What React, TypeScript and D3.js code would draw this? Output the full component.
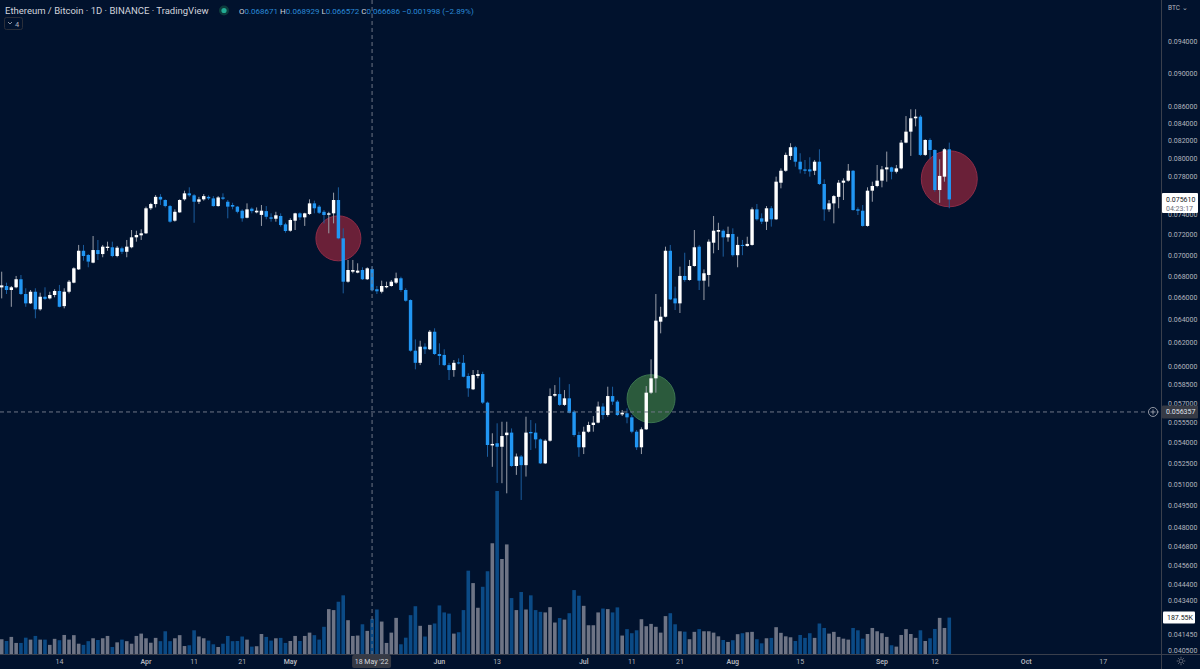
import React from 'react';
import * as d3 from 'd3';

// ETH/BTC daily candles, Mar 2 2022 -> Sep 15 2022 (one value per day)
const firstDay = new Date(Date.UTC(2022, 2, 2));

const opens = [
  0.06695, 0.06708, 0.06671, 0.06696, 0.06771, 0.06634, 0.06549, 0.06655, 0.06495, 0.06609,
  0.06594, 0.06625, 0.06662, 0.06524, 0.06655, 0.06739, 0.06864, 0.07043, 0.07002, 0.06928,
  0.07050, 0.07011, 0.07070, 0.07077, 0.06992, 0.07067, 0.07033, 0.07077, 0.07175, 0.07195,
  0.07215, 0.07469, 0.07513, 0.07588, 0.07555, 0.07492, 0.07342, 0.07427, 0.07562, 0.07625,
  0.07604, 0.07537, 0.07562, 0.07588, 0.07572, 0.07492, 0.07582, 0.07537, 0.07503, 0.07486,
  0.07444, 0.07372, 0.07465, 0.07427, 0.07401, 0.07440, 0.07376, 0.07362, 0.07390, 0.07305,
  0.07241, 0.07342, 0.07417, 0.07376, 0.07410, 0.07520, 0.07486, 0.07433, 0.07403, 0.07417,
  0.07555, 0.07165, 0.06748, 0.06842, 0.06833, 0.06858, 0.06771, 0.068671, 0.06678, 0.06655,
  0.06696, 0.06708, 0.06739, 0.06780, 0.06671, 0.06579, 0.06134, 0.06032, 0.06168, 0.06146,
  0.06297, 0.06106, 0.06098, 0.06013, 0.05972, 0.06035, 0.06032, 0.05923, 0.05815, 0.05923,
  0.05939, 0.05709, 0.05381, 0.05397, 0.05371, 0.05458, 0.05477, 0.05230, 0.05299, 0.05236,
  0.05482, 0.05477, 0.05426, 0.05249, 0.05416, 0.05764, 0.05777, 0.05691, 0.05743, 0.05638,
  0.05459, 0.05367, 0.05484, 0.05535, 0.05553, 0.05678, 0.05612, 0.05761, 0.05717, 0.05617,
  0.05625, 0.05594, 0.05484, 0.05367, 0.05502, 0.05788, 0.05904, 0.06385, 0.06429, 0.07043,
  0.06594, 0.06549, 0.06802, 0.06764, 0.06896, 0.07083, 0.06758, 0.06811, 0.07122, 0.07231,
  0.07241, 0.07175, 0.07208, 0.07000, 0.07100, 0.07090, 0.07100, 0.07458, 0.07366, 0.07332,
  0.07469, 0.07356, 0.07738, 0.07867, 0.08030, 0.08127, 0.07966, 0.07882, 0.07882, 0.07867,
  0.07966, 0.07724, 0.07458, 0.07520, 0.07588, 0.07738, 0.07760, 0.07867, 0.07458, 0.07444,
  0.07289, 0.07653, 0.07703, 0.07760, 0.07882, 0.07904, 0.07856, 0.07893, 0.08179, 0.08304,
  0.08459, 0.08478, 0.08041, 0.08209, 0.08096, 0.07660, 0.07803, 0.08104,
];

const highs = [
  0.06842, 0.06739, 0.06708, 0.06802, 0.06811, 0.06687, 0.06671, 0.06687, 0.06646, 0.06696,
  0.06655, 0.06678, 0.06718, 0.06687, 0.06764, 0.06884, 0.07100, 0.07100, 0.07011, 0.07188,
  0.07149, 0.07100, 0.07132, 0.07132, 0.07090, 0.07083, 0.07149, 0.07248, 0.07241, 0.07255,
  0.07486, 0.07526, 0.07607, 0.07617, 0.07562, 0.07503, 0.07458, 0.07562, 0.07653, 0.07689,
  0.07617, 0.07588, 0.07617, 0.07604, 0.07596, 0.07596, 0.07625, 0.07555, 0.07526, 0.07492,
  0.07458, 0.07520, 0.07478, 0.07478, 0.07503, 0.07492, 0.07417, 0.07433, 0.07417, 0.07321,
  0.07366, 0.07423, 0.07427, 0.07423, 0.07562, 0.07548, 0.07503, 0.07451, 0.07433, 0.07632,
  0.07689, 0.07265, 0.06954, 0.06954, 0.06922, 0.06884, 0.06884, 0.068929, 0.06708, 0.06758,
  0.06748, 0.06764, 0.06833, 0.06795, 0.06687, 0.06585, 0.06231, 0.06219, 0.06197, 0.06312,
  0.06327, 0.06197, 0.06146, 0.06032, 0.06055, 0.06069, 0.06098, 0.05945, 0.05972, 0.05972,
  0.05958, 0.05717, 0.05472, 0.05548, 0.05560, 0.05560, 0.05509, 0.05321, 0.05310, 0.05599,
  0.05573, 0.05548, 0.05433, 0.05426, 0.05822, 0.05849, 0.05912, 0.05809, 0.05857, 0.05651,
  0.05484, 0.05522, 0.05560, 0.05604, 0.05717, 0.05704, 0.05836, 0.05836, 0.05730, 0.05651,
  0.05664, 0.05612, 0.05497, 0.05517, 0.05841, 0.06061, 0.06634, 0.06518, 0.07083, 0.07100,
  0.06702, 0.06890, 0.07024, 0.06954, 0.07248, 0.07100, 0.06864, 0.07155, 0.07390, 0.07321,
  0.07255, 0.07282, 0.07265, 0.07181, 0.07149, 0.07181, 0.07478, 0.07513, 0.07417, 0.07492,
  0.07492, 0.07803, 0.07893, 0.08067, 0.08172, 0.08142, 0.08060, 0.07985, 0.08015, 0.07985,
  0.08104, 0.07774, 0.07555, 0.07607, 0.07767, 0.07785, 0.07941, 0.07875, 0.07478, 0.07503,
  0.07689, 0.07749, 0.07930, 0.07919, 0.08078, 0.07911, 0.07930, 0.08209, 0.08485, 0.08565,
  0.08565, 0.08497, 0.08217, 0.08228, 0.08104, 0.07993, 0.08115, 0.08179,
];

const lows = [
  0.06594, 0.06634, 0.06518, 0.06687, 0.06625, 0.06518, 0.06543, 0.06415, 0.06483, 0.06579,
  0.06585, 0.06604, 0.06513, 0.06504, 0.06640, 0.06733, 0.06858, 0.06947, 0.06884, 0.06922,
  0.06954, 0.06980, 0.07043, 0.06980, 0.06980, 0.07011, 0.06980, 0.07067, 0.07132, 0.07149,
  0.07208, 0.07451, 0.07478, 0.07503, 0.07478, 0.07321, 0.07332, 0.07423, 0.07548, 0.07588,
  0.07321, 0.07513, 0.07548, 0.07555, 0.07486, 0.07486, 0.07555, 0.07366, 0.07458, 0.07417,
  0.07332, 0.07366, 0.07417, 0.07417, 0.07289, 0.07356, 0.07332, 0.07332, 0.07282, 0.07221,
  0.07231, 0.07248, 0.07349, 0.07289, 0.07400, 0.07417, 0.07410, 0.07315, 0.07215, 0.07315,
  0.07155, 0.06640, 0.06739, 0.06827, 0.06827, 0.06764, 0.06764, 0.066572, 0.06634, 0.06640,
  0.06687, 0.06702, 0.06727, 0.06655, 0.06564, 0.06126, 0.05978, 0.06013, 0.06106, 0.06140,
  0.06098, 0.06013, 0.06005, 0.05890, 0.05917, 0.06019, 0.05912, 0.05755, 0.05809, 0.05904,
  0.05698, 0.05297, 0.05224, 0.05109, 0.05107, 0.05036, 0.05224, 0.05166, 0.04990, 0.05154,
  0.05347, 0.05359, 0.05244, 0.05244, 0.05409, 0.05755, 0.05683, 0.05683, 0.05625, 0.05446,
  0.05297, 0.05317, 0.05477, 0.05484, 0.05548, 0.05578, 0.05599, 0.05691, 0.05604, 0.05604,
  0.05548, 0.05472, 0.05347, 0.05317, 0.05497, 0.05777, 0.05788, 0.06283, 0.06423, 0.06579,
  0.06489, 0.06462, 0.06748, 0.06758, 0.06890, 0.06671, 0.06579, 0.06702, 0.07018, 0.07050,
  0.06986, 0.07132, 0.06986, 0.06884, 0.07000, 0.07083, 0.07093, 0.07342, 0.07308, 0.07248,
  0.07282, 0.07349, 0.07678, 0.07856, 0.07985, 0.07911, 0.07838, 0.07831, 0.07803, 0.07820,
  0.07713, 0.07342, 0.07433, 0.07315, 0.07469, 0.07555, 0.07749, 0.07444, 0.07400, 0.07282,
  0.07282, 0.07537, 0.07689, 0.07689, 0.07749, 0.07774, 0.07838, 0.07882, 0.08172, 0.08030,
  0.08365, 0.08030, 0.08030, 0.07993, 0.07642, 0.07526, 0.07749, 0.07469,
];

const closes = [
  0.06714, 0.06671, 0.06696, 0.06771, 0.06634, 0.06549, 0.06655, 0.06495, 0.06609, 0.06590,
  0.06625, 0.06662, 0.06518, 0.06655, 0.06748, 0.06874, 0.07043, 0.06992, 0.06938, 0.07050,
  0.07011, 0.07083, 0.07083, 0.06992, 0.07073, 0.07033, 0.07083, 0.07175, 0.07198, 0.07215,
  0.07469, 0.07513, 0.07588, 0.07560, 0.07492, 0.07332, 0.07433, 0.07555, 0.07625, 0.07604,
  0.07537, 0.07562, 0.07596, 0.07572, 0.07492, 0.07582, 0.07568, 0.07486, 0.07486, 0.07433,
  0.07366, 0.07458, 0.07440, 0.07444, 0.07444, 0.07382, 0.07362, 0.07397, 0.07298, 0.07238,
  0.07349, 0.07417, 0.07376, 0.07417, 0.07520, 0.07469, 0.07423, 0.07400, 0.07417, 0.07555,
  0.07165, 0.06748, 0.06858, 0.06858, 0.06852, 0.06771, 0.06874, 0.066686, 0.06659, 0.06708,
  0.06708, 0.06748, 0.06780, 0.06671, 0.06573, 0.06134, 0.06032, 0.06168, 0.06146, 0.06297,
  0.06106, 0.06089, 0.06013, 0.05972, 0.06032, 0.06027, 0.05917, 0.05823, 0.05931, 0.05939,
  0.05709, 0.05384, 0.05392, 0.05371, 0.05451, 0.05477, 0.05230, 0.05299, 0.05236, 0.05477,
  0.05472, 0.05426, 0.05249, 0.05416, 0.05761, 0.05777, 0.05691, 0.05743, 0.05630, 0.05459,
  0.05367, 0.05484, 0.05535, 0.05553, 0.05678, 0.05612, 0.05761, 0.05717, 0.05612, 0.05630,
  0.05594, 0.05484, 0.05367, 0.05502, 0.05788, 0.05904, 0.06394, 0.06429, 0.07043, 0.06585,
  0.06549, 0.06802, 0.06764, 0.06896, 0.07077, 0.06758, 0.06827, 0.07132, 0.07241, 0.07248,
  0.07175, 0.07208, 0.07000, 0.07100, 0.07090, 0.07110, 0.07458, 0.07356, 0.07332, 0.07469,
  0.07356, 0.07749, 0.07867, 0.08041, 0.08127, 0.07966, 0.07882, 0.07867, 0.07860, 0.07966,
  0.07724, 0.07458, 0.07520, 0.07596, 0.07738, 0.07760, 0.07867, 0.07451, 0.07444, 0.07289,
  0.07653, 0.07703, 0.07760, 0.07882, 0.07904, 0.07856, 0.07893, 0.08179, 0.08304, 0.08459,
  0.08478, 0.08041, 0.08209, 0.08096, 0.07660, 0.07811, 0.08104, 0.07561,
];

// volume in thousands of ETH
const volumes = [
  76, 67, 88, 57, 57, 84, 74, 93, 74, 74,
  47, 78, 71, 98, 74, 97, 53, 47, 66, 81,
  72, 81, 93, 36, 60, 74, 66, 53, 93, 105,
  81, 58, 83, 66, 117, 66, 81, 97, 41, 45,
  122, 90, 81, 69, 50, 36, 53, 93, 66, 67,
  90, 74, 38, 40, 103, 88, 69, 81, 83, 57,
  67, 93, 67, 93, 110, 97, 74, 140, 231, 226,
  269, 302, 174, 93, 95, 153, 119, 181, 229, 167,
  57, 110, 186, 50, 84, 200, 246, 145, 90, 150,
  157, 250, 214, 208, 105, 112, 226, 429, 365, 238,
  346, 426, 570, 839, 489, 564, 288, 226, 319, 229,
  302, 226, 217, 214, 241, 162, 185, 177, 210, 329,
  300, 248, 148, 148, 214, 234, 231, 214, 240, 95,
  128, 107, 122, 179, 143, 155, 140, 110, 195, 210,
  153, 117, 115, 76, 114, 128, 117, 117, 110, 91,
  72, 62, 71, 102, 107, 112, 114, 76, 55, 81,
  83, 138, 109, 91, 86, 67, 98, 83, 107, 83,
  157, 134, 105, 114, 88, 79, 74, 134, 122, 79,
  103, 134, 117, 107, 88, 45, 38, 98, 128, 103,
  83, 122, 67, 81, 129, 186, 134, 187.55,
];

// visible price-scale labels (those hidden under the value labels are left out)
const priceTicks = [
  0.094, 0.09, 0.086, 0.084, 0.082, 0.08, 0.078, 0.074, 0.072, 0.07, 0.068, 0.066,
  0.064, 0.062, 0.06, 0.0585, 0.057, 0.0555, 0.054, 0.0525, 0.051, 0.0495, 0.048, 0.0468,
  0.0456, 0.0444, 0.0434, 0.04145, 0.0405,
];

const timeTicks = [
  { d: [2022, 2, 14], label: '14', month: false },
  { d: [2022, 3, 1], label: 'Apr', month: true },
  { d: [2022, 3, 11], label: '11', month: false },
  { d: [2022, 3, 21], label: '21', month: false },
  { d: [2022, 4, 1], label: 'May', month: true },
  { d: [2022, 5, 1], label: 'Jun', month: true },
  { d: [2022, 5, 13], label: '13', month: false },
  { d: [2022, 6, 1], label: 'Jul', month: true },
  { d: [2022, 6, 11], label: '11', month: false },
  { d: [2022, 6, 21], label: '21', month: false },
  { d: [2022, 7, 1], label: 'Aug', month: true },
  { d: [2022, 7, 15], label: '15', month: false },
  { d: [2022, 8, 1], label: 'Sep', month: true },
  { d: [2022, 8, 12], label: '12', month: false },
  { d: [2022, 9, 1], label: 'Oct', month: true },
  { d: [2022, 9, 17], label: '17', month: false },
];

// highlighted zones drawn on the chart: [day, price, radius px, kind]
const markers: [Date, number, number, string][] = [
  [new Date(Date.UTC(2022, 4, 11)), 0.07165, 22.5, 'red'],
  [new Date(Date.UTC(2022, 6, 15)), 0.0574, 24, 'green'],
  [new Date(Date.UTC(2022, 8, 15)), 0.0778, 28, 'red'],
];

const crossDate = new Date(Date.UTC(2022, 4, 18));
const crossPrice = 0.056357;
const lastPrice = 0.07561;

const W = 1200;
const H = 669;
const axisX = 1161;
const baseY = 654;

const BG = '#01122d';
const FONT = 'Roboto, "Noto Sans", sans-serif';

const App = () => {
  const day = (i: number) => d3.utcDay.offset(firstDay, i);

  const x = d3
    .scaleUtc()
    .domain([firstDay, new Date(Date.UTC(2022, 9, 17))])
    .range([1.7, 1103.2]);

  const y = d3.scaleLog().domain([0.094, 0.0405]).range([42, 650.9]);

  const vy = d3.scaleLinear().domain([0, 839]).range([baseY, 491]);

  const candles = opens.map((o, i) => ({
    date: day(i),
    o,
    h: highs[i],
    l: lows[i],
    c: closes[i],
    v: volumes[i],
  }));

  const bw = 3.4;

  return (
    <svg
      width={W}
      height={H}
      style={{ position: 'fixed', left: 0, top: 0, background: BG }}
      fontFamily={FONT}
    >
      <rect x={0} y={0} width={W} height={H} fill={BG} />

      {/* volume */}
      {candles.map((d, i) => {
        const up = d.c >= d.o;
        return (
          <rect
            key={'v' + i}
            x={x(d.date) - 1.8}
            y={vy(d.v)}
            width={3.6}
            height={baseY - vy(d.v)}
            fill={up ? '#6e7485' : '#0b4a85'}
          />
        );
      })}

      {/* marked zones */}
      {markers.map(([dt, p, r, kind], i) => (
        <circle
          key={'m' + i}
          cx={x(dt)}
          cy={y(p)}
          r={r}
          fill={kind === 'red' ? '#6a2038' : '#2b5a3c'}
          stroke={kind === 'red' ? '#8e2c48' : '#3b7550'}
          strokeWidth={1}
        />
      ))}

      {/* candles */}
      {candles.map((d, i) => {
        const up = d.c >= d.o;
        const cx = x(d.date);
        const top = y(Math.max(d.o, d.c));
        const bot = y(Math.min(d.o, d.c));
        return (
          <g key={'c' + i}>
            <line
              x1={cx}
              x2={cx}
              y1={y(d.h)}
              y2={y(d.l)}
              stroke={up ? '#9a9ea8' : '#1b5d9e'}
              strokeWidth={1}
            />
            <rect
              x={cx - bw / 2}
              y={top}
              width={bw}
              height={Math.max(1, bot - top)}
              fill={up ? '#ffffff' : '#2196f3'}
            />
          </g>
        );
      })}

      {/* crosshair */}
      <line x1={x(crossDate)} x2={x(crossDate)} y1={0} y2={baseY} stroke="#6f7686" strokeDasharray="4 3" />
      <line x1={0} x2={axisX} y1={y(crossPrice)} y2={y(crossPrice)} stroke="#6f7686" strokeDasharray="4 3" />

      {/* axes frame */}
      <rect x={axisX} y={0} width={W - axisX} height={H} fill={BG} />
      <rect x={0} y={baseY} width={axisX} height={H - baseY} fill={BG} />
      <line x1={axisX + 0.5} x2={axisX + 0.5} y1={0} y2={H} stroke="#3a3f4c" />
      <line x1={0} x2={W} y1={baseY + 0.5} y2={baseY + 0.5} stroke="#3a3f4c" />

      {/* price axis */}
      {priceTicks.map((t) => (
        <text key={t} x={1168} y={y(t)} dy="0.35em" fontSize={7} fill="#b2b5be">
          {t.toFixed(6)}
        </text>
      ))}
      <text x={1168} y={10} fontSize={6.5} fill="#b2b5be">
        BTC ⌄
      </text>

      {/* last price label */}
      <rect x={1162} y={y(lastPrice) - 6.5} width={36} height={20} rx={1} fill="#ffffff" />
      <text x={1166} y={y(lastPrice)} dy="0.35em" fontSize={7} fill="#131722">
        {lastPrice.toFixed(6)}
      </text>
      <text x={1166} y={y(lastPrice) + 9} dy="0.35em" fontSize={7} fill="#6a6d78">
        04:23:17
      </text>

      {/* crosshair price label */}
      <rect x={1162} y={y(crossPrice) - 6.5} width={36} height={13} rx={1} fill="#363a45" />
      <text x={1166} y={y(crossPrice)} dy="0.35em" fontSize={7} fill="#e0e3eb">
        {crossPrice.toFixed(6)}
      </text>
      <circle cx={1153} cy={y(crossPrice)} r={4.5} fill={BG} stroke="#b2b5be" strokeWidth={0.8} />
      <line x1={1150.5} x2={1155.5} y1={y(crossPrice)} y2={y(crossPrice)} stroke="#b2b5be" strokeWidth={0.8} />
      <line x1={1153} x2={1153} y1={y(crossPrice) - 2.5} y2={y(crossPrice) + 2.5} stroke="#b2b5be" strokeWidth={0.8} />

      {/* last volume label */}
      <rect x={1163} y={vy(187.55) - 6} width={32} height={12} rx={1} fill="#ffffff" />
      <text x={1167} y={vy(187.55)} dy="0.35em" fontSize={7} fill="#131722">
        187.55K
      </text>

      {/* time axis */}
      {timeTicks.map((t, i) => (
        <text
          key={'t' + i}
          x={x(new Date(Date.UTC(t.d[0], t.d[1], t.d[2])))}
          y={662}
          dy="0.35em"
          textAnchor="middle"
          fontSize={7}
          fontWeight={t.month ? 600 : 400}
          fill="#b2b5be"
        >
          {t.label}
        </text>
      ))}
      <rect x={x(crossDate) - 20} y={baseY + 1} width={39} height={13} rx={2} fill="#363a45" />
      <text x={x(crossDate) - 0.5} y={662} dy="0.35em" textAnchor="middle" fontSize={7} fill="#d1d4dc">
        18 May '22
      </text>

      {/* settings gear */}
      <g transform="translate(1181,661)" stroke="#787b86" fill="none" strokeWidth={0.8}>
        <circle r={2} />
        {d3.range(8).map((k) => {
          const a = (k * Math.PI) / 4;
          return (
            <line key={k} x1={Math.cos(a) * 3} y1={Math.sin(a) * 3} x2={Math.cos(a) * 4.3} y2={Math.sin(a) * 4.3} />
          );
        })}
      </g>

      {/* legend */}
      <text x={5} y={14} fontSize={9.5} fill="#d1d4dc">
        Ethereum / Bitcoin · 1D · BINANCE · TradingView
      </text>
      <circle cx={224} cy={10.5} r={5} fill="#0d3b3c" />
      <circle cx={224} cy={10.5} r={2.6} fill="#22ab94" />
      <text x={239} y={14} fontSize={8} fill="#2a8ad8">
        <tspan fill="#d1d4dc">O</tspan>0.068671 <tspan fill="#d1d4dc">H</tspan>0.068929{' '}
        <tspan fill="#d1d4dc">L</tspan>0.066572 <tspan fill="#d1d4dc">C</tspan>0.066686 −0.001998 (−2.89%)
      </text>
      <rect x={4.5} y={17.5} width={18} height={12} rx={2} fill="none" stroke="#2a2e39" />
      <path d="M8 22 l2 2 l2 -2" fill="none" stroke="#b2b5be" strokeWidth={0.8} />
      <text x={15} y={26.5} fontSize={7.5} fill="#b2b5be">
        4
      </text>
    </svg>
  );
};

export default App;
